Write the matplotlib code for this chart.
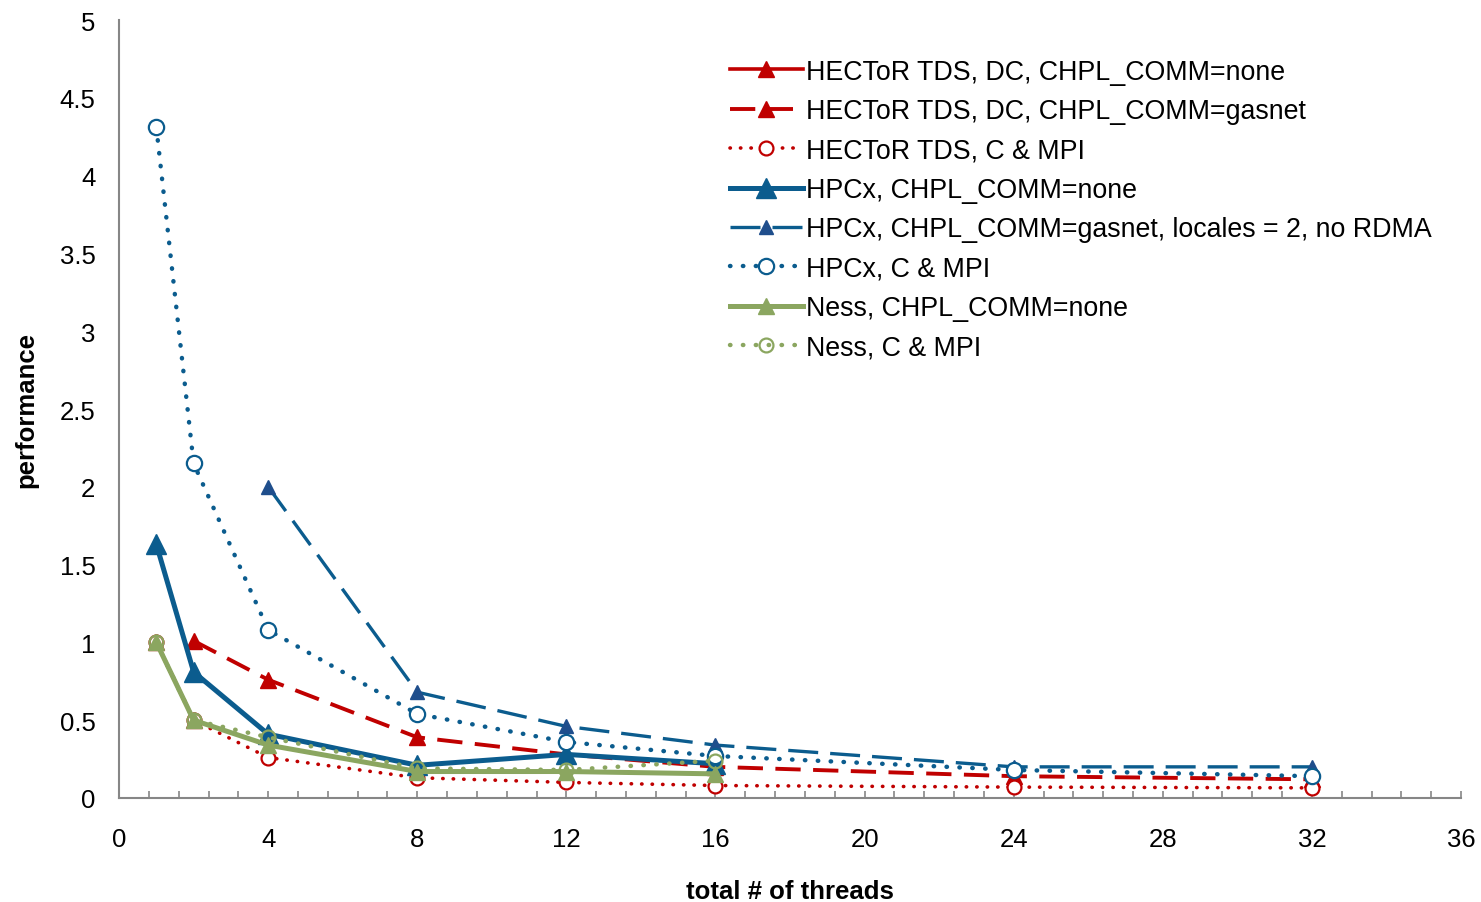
import matplotlib.pyplot as plt
from matplotlib.ticker import MultipleLocator, FormatStrFormatter

plt.rcParams['font.family'] = ['Liberation Sans', 'DejaVu Sans']

# data
hector_none_x = [1, 2]
hector_none_y = [1.0, 0.5]

hector_gasnet_x = [2, 4, 8, 12, 16, 24, 32]
hector_gasnet_y = [1.01, 0.76, 0.39, 0.28, 0.2, 0.14, 0.12]

hector_mpi_x = [1, 2, 4, 8, 12, 16, 24, 32]
hector_mpi_y = [1.0, 0.5, 0.26, 0.13, 0.1, 0.08, 0.07, 0.065]

hpcx_none_x = [1, 2, 4, 8, 12, 16]
hpcx_none_y = [1.63, 0.81, 0.41, 0.21, 0.28, 0.22]

hpcx_gasnet_x = [4, 8, 12, 16, 24, 32]
hpcx_gasnet_y = [2.0, 0.68, 0.46, 0.34, 0.2, 0.2]

hpcx_mpi_x = [1, 2, 4, 8, 12, 16, 24, 32]
hpcx_mpi_y = [4.31, 2.15, 1.08, 0.54, 0.36, 0.27, 0.18, 0.14]

ness_none_x = [1, 2, 4, 8, 12, 16]
ness_none_y = [1.0, 0.5, 0.34, 0.17, 0.17, 0.155]

ness_mpi_x = [1, 2, 4, 8, 12, 16]
ness_mpi_y = [1.0, 0.5, 0.39, 0.19, 0.18, 0.24]

red = '#C00000'
blue = '#0B5C8E'
navy = '#1F4E8C'
green = '#8BA660'

fig = plt.figure(figsize=(14.81, 9.03), dpi=100)
ax = fig.add_axes([0.0804, 0.1152, 0.9061, 0.8615])

dotted = (0, (0.1, 2.8))

ax.plot(hector_none_x, hector_none_y, color=red, lw=2.6, marker='^', ms=11,
        label='HECToR TDS, DC, CHPL_COMM=none')
ax.plot(hector_gasnet_x, hector_gasnet_y, color=red, lw=2.8, ls=(0, (6.5, 3.2)), marker='^', ms=11,
        label='HECToR TDS, DC, CHPL_COMM=gasnet')
ax.plot(hector_mpi_x, hector_mpi_y, color=red, lw=2.6, ls=dotted, dash_capstyle='round',
        marker='o', ms=10, mfc='white', mew=1.6,
        label='HECToR TDS, C & MPI')
ax.plot(hpcx_none_x, hpcx_none_y, color=blue, lw=3.6, marker='^', ms=14,
        label='HPCx, CHPL_COMM=none')
ax.plot(hpcx_gasnet_x, hpcx_gasnet_y, color=blue, lw=2.4, ls=(0, (9, 3.6)), marker='^', ms=10,
        mfc=navy, mec=navy,
        label='HPCx, CHPL_COMM=gasnet, locales = 2, no RDMA')
ax.plot(hpcx_mpi_x, hpcx_mpi_y, color=blue, lw=3.2, ls=dotted, dash_capstyle='round',
        marker='o', ms=11, mfc='white', mew=1.6,
        label='HPCx, C & MPI')
ax.plot(ness_none_x, ness_none_y, color=green, lw=3.6, marker='^', ms=11,
        label='Ness, CHPL_COMM=none')
ax.plot(ness_mpi_x, ness_mpi_y, color=green, lw=3.2, ls=dotted, dash_capstyle='round',
        marker='o', ms=10, mfc='none', mew=1.6,
        label='Ness, C & MPI')

ax.set_xlim(0, 36)
ax.set_ylim(0, 5)
ax.xaxis.set_major_locator(MultipleLocator(4))
ax.xaxis.set_minor_locator(MultipleLocator(0.8))
ax.yaxis.set_major_locator(MultipleLocator(0.5))
ax.yaxis.set_major_formatter(FormatStrFormatter('%g'))

for s in ['top', 'right']:
    ax.spines[s].set_visible(False)
for s in ['left', 'bottom']:
    ax.spines[s].set_color('#868686')
    ax.spines[s].set_linewidth(1.5)

ax.tick_params(axis='x', which='both', direction='in', length=5, width=1.2, color='#868686',
               labelsize=18.5, pad=21)
ax.tick_params(axis='y', which='both', length=0, labelsize=18.5, pad=17)

ax.set_xlabel('total # of threads', fontsize=18.5, fontweight='bold', labelpad=20)
ax.set_ylabel('performance', fontsize=18.5, fontweight='bold', labelpad=15)

ax.legend(loc='upper left', bbox_to_anchor=(0.447, 0.964), frameon=False, fontsize=19.3,
          handlelength=2.75, handletextpad=0.1, labelspacing=0.5, borderaxespad=0)

fig.savefig('out.png', dpi=100)
